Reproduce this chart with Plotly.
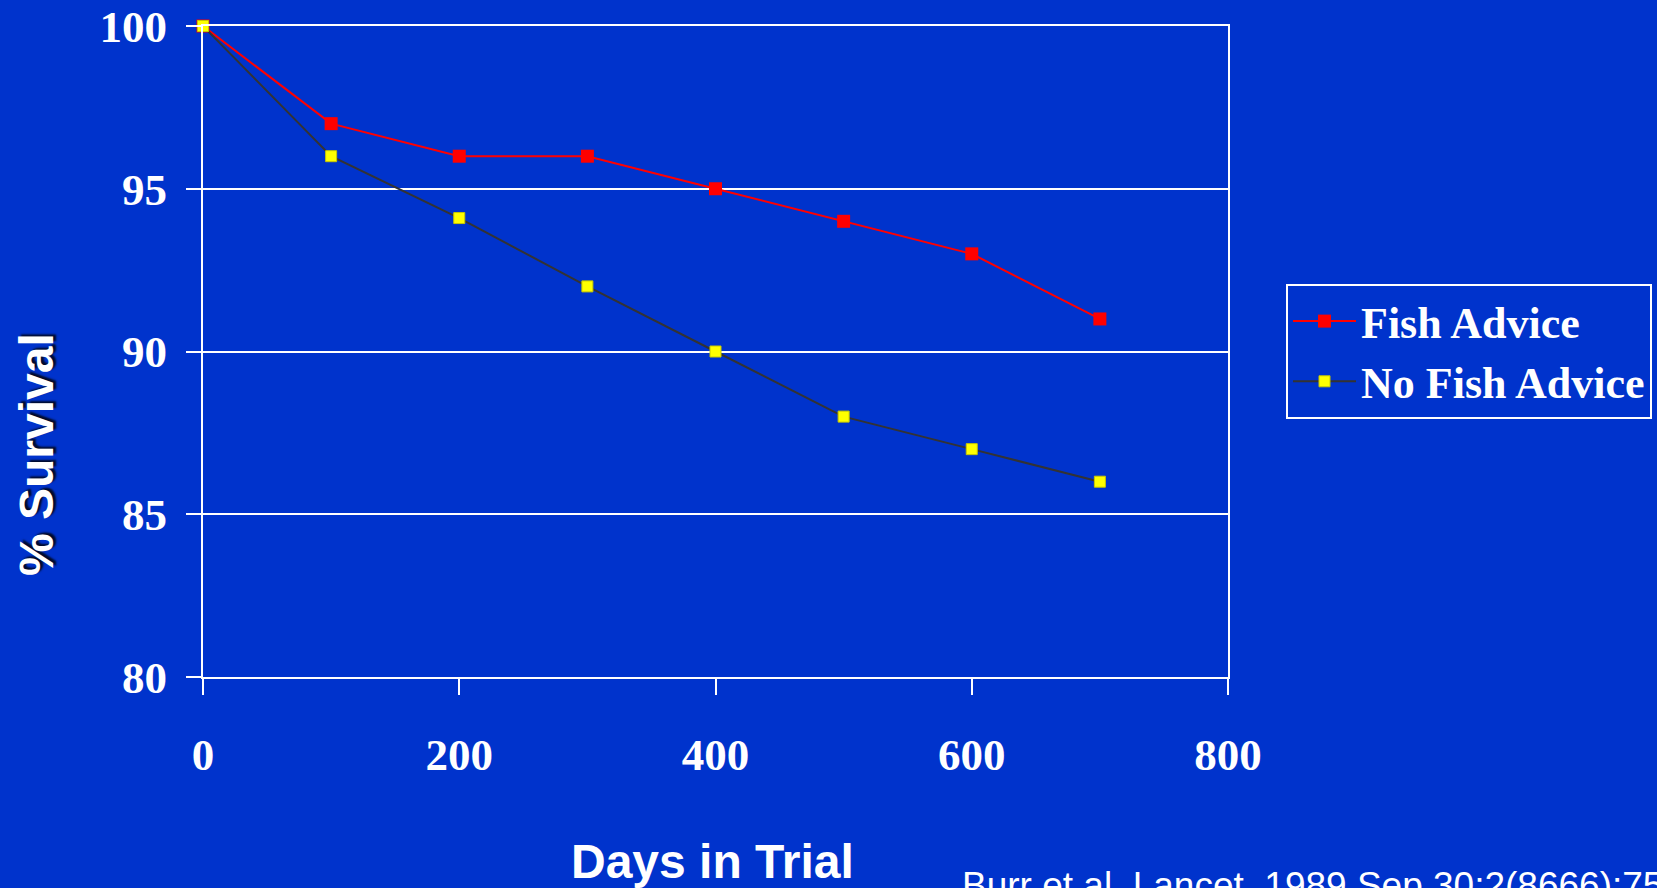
import plotly.graph_objects as go

days = [0, 100, 200, 300, 400, 500, 600, 700]
fish_advice = [100, 97, 96, 96, 95, 94, 93, 91]
no_fish_advice = [100, 96, 94.1, 92, 90, 88, 87, 86]
series_names = ["Fish Advice", "No Fish Advice"]
x_ticks = [0, 200, 400, 600, 800]
y_ticks = [80, 85, 90, 95, 100]

BG = "#0033CC"
W, H = 1657, 888
L, R, T, B = 203, 429, 26, 211
pw, ph = W - L - R, H - T - B

def px_x(p):
    return (p - L) / pw

def px_y(p):
    return (H - B - p) / ph

fig = go.Figure()
fig.add_trace(go.Scatter(
    x=days, y=fish_advice, name=series_names[0], mode="lines+markers",
    line=dict(color="#FF0000", width=2), cliponaxis=False,
    marker=dict(symbol="square", size=13, color="#FF0000", line=dict(width=0)),
))
fig.add_trace(go.Scatter(
    x=days, y=no_fish_advice, name=series_names[1], mode="lines+markers",
    line=dict(color="#333333", width=2), cliponaxis=False,
    marker=dict(symbol="square", size=11, color="#FFFF00", line=dict(color="#C8C800", width=1)),
))

tickfont = dict(family="Liberation Serif, Times New Roman, serif", size=45, color="white")

fig.update_layout(
    width=W, height=H,
    paper_bgcolor=BG, plot_bgcolor=BG,
    margin=dict(l=L, r=R, t=T, b=B, autoexpand=False),
    showlegend=True,
    legend=dict(
        x=px_x(1286), y=px_y(284), xanchor="left", yanchor="top",
        bgcolor=BG, bordercolor="white", borderwidth=2,
        font=dict(family="Liberation Serif, Times New Roman, serif", size=44, color="white", weight="bold"),
        itemwidth=63,
    ),
    xaxis=dict(
        range=[0, 800], tickvals=x_ticks, ticktext=[str(v) for v in x_ticks],
        showgrid=False, zeroline=False,
        showline=True, linecolor="white", linewidth=2, mirror=True,
        ticks="outside", ticklen=16, tickwidth=2, tickcolor="white",
        tickfont=dict(tickfont, weight="bold"), ticklabelstandoff=21,
    ),
    yaxis=dict(
        range=[80, 100], tickvals=y_ticks, ticktext=[str(v) for v in y_ticks],
        showgrid=True, gridcolor="white", gridwidth=2, zeroline=False,
        showline=True, linecolor="white", linewidth=2, mirror=True,
        ticks="outside", ticklen=15, tickwidth=2, tickcolor="white",
        tickfont=dict(tickfont, weight="bold"), ticklabelstandoff=10,
    ),
    annotations=[
        dict(text="% Survival", xref="paper", yref="paper",
             x=px_x(37), y=px_y(455), xanchor="center", yanchor="middle",
             textangle=-90, showarrow=False,
             font=dict(family="Liberation Sans, Arial, sans-serif", size=48, color="white",
                       weight="bold", shadow="2px 3px 2px rgba(0,0,0,0.8)")),
        dict(text="Days in Trial", xref="paper", yref="paper",
             x=px_x(712), y=px_y(861), xanchor="center", yanchor="middle",
             showarrow=False,
             font=dict(family="Liberation Sans, Arial, sans-serif", size=48, color="white",
                       weight="bold")),
        dict(text="Burr et al. Lancet. 1989 Sep 30;2(8666):757-61", xref="paper", yref="paper",
             x=px_x(960), y=px_y(863), xanchor="left", yanchor="top",
             showarrow=False,
             font=dict(family="Liberation Sans, Arial, sans-serif", size=37, color="white")),
    ],
)

fig.write_html("out.html")
